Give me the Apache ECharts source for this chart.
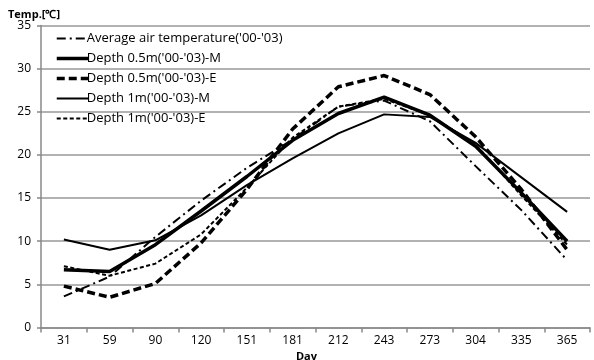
<!DOCTYPE html>
<html>
<head>
<meta charset="utf-8">
<script src="https://cdn.jsdelivr.net/npm/echarts@6/dist/echarts.min.js"></script>
<style>html,body{margin:0;padding:0;background:#fff}#c{width:594px;height:360px}</style>
</head>
<body>
<div id="c"></div>
<script>
const days = ['31','59','90','120','151','181','212','243','273','304','335','365'];
const airTemp = [3.6, 5.9, 10.5, 14.7, 18.5, 21.8, 25.6, 26.3, 23.9, 18.7, 13.6, 7.8];
const d05M = [6.7, 6.5, 9.6, 13.5, 17.5, 21.7, 24.8, 26.7, 24.6, 21.0, 15.6, 10.0];
const d05E = [4.8, 3.5, 5.1, 9.8, 16.0, 23.0, 27.9, 29.2, 27.0, 22.1, 16.0, 9.0];
const d1M = [10.2, 9.0, 10.1, 13.0, 16.5, 19.6, 22.5, 24.7, 24.4, 21.4, 17.4, 13.4];
const d1E = [7.1, 6.0, 7.4, 10.8, 16.2, 22.0, 25.6, 26.5, 24.6, 21.2, 15.3, 9.6];
const names = ["Average air temperature('00-'03)", "Depth 0.5m('00-'03)-M", "Depth 0.5m('00-'03)-E", "Depth 1m('00-'03)-M", "Depth 1m('00-'03)-E"];
const yTicks = [0, 5, 10, 15, 20, 25, 30, 35];

const font = "'Open Sans', 'Liberation Sans', sans-serif";
const styles = [
  { width: 2, type: [9, 4, 2, 4] },
  { width: 3.5, type: 'solid' },
  { width: 3.5, type: [8, 4] },
  { width: 2, type: 'solid' },
  { width: 2, type: [4, 2.5] }
];
const seriesData = [airTemp, d05M, d05E, d1M, d1E];
const chart = echarts.init(document.getElementById('c'));
chart.setOption({
  animation: false,
  grid: { left: 41, right: 4, top: 25.5, bottom: 32.5, outerBoundsMode: 'none', containLabel: false },
  title: { text: 'Temp.[℃]', left: 3, top: 4, textStyle: { fontSize: 11, fontWeight: 'bold', fontFamily: font, color: '#000' } },
  legend: {
    orient: 'vertical', left: 50, top: 27, itemWidth: 32, itemHeight: 14, itemGap: 7,
    itemStyle: { opacity: 0 },
    textStyle: { fontSize: 13, fontFamily: font, color: '#000', padding: [0, 0, 0, -7] },
    data: names.map((n, i) => ({ name: n, lineStyle: { color: '#000', width: styles[i].width, type: styles[i].type } }))
  },
  xAxis: {
    type: 'category', data: days, boundaryGap: true,
    name: 'Day', nameLocation: 'middle', nameGap: 20,
    nameTextStyle: { fontSize: 11, fontWeight: 'bold', fontFamily: font, color: '#000', padding: [0, 18, 0, 0] },
    axisLine: { lineStyle: { color: '#888', width: 1.5 } },
    axisTick: { show: true, length: 5, lineStyle: { color: '#888', width: 1.5 } },
    axisLabel: { fontSize: 12, fontFamily: font, color: '#000', margin: 7 }
  },
  yAxis: {
    type: 'value', min: 0, max: 35, interval: 5,
    axisLine: { show: true, lineStyle: { color: '#888', width: 1.5 } },
    axisTick: { show: true, length: 4, lineStyle: { color: '#888', width: 1.5 } },
    axisLabel: { fontSize: 12, fontFamily: font, color: '#000', margin: 10,
      formatter: v => yTicks.includes(v) ? String(v) : '' },
    splitLine: { lineStyle: { color: '#999', width: 1.5 } }
  },
  series: names.map((n, i) => ({
    name: n, type: 'line', data: seriesData[i], symbol: 'none', smooth: false,
    lineStyle: { color: '#000', width: styles[i].width, type: styles[i].type },
    itemStyle: { color: '#000' }
  }))
});
</script>
</body>
</html>
